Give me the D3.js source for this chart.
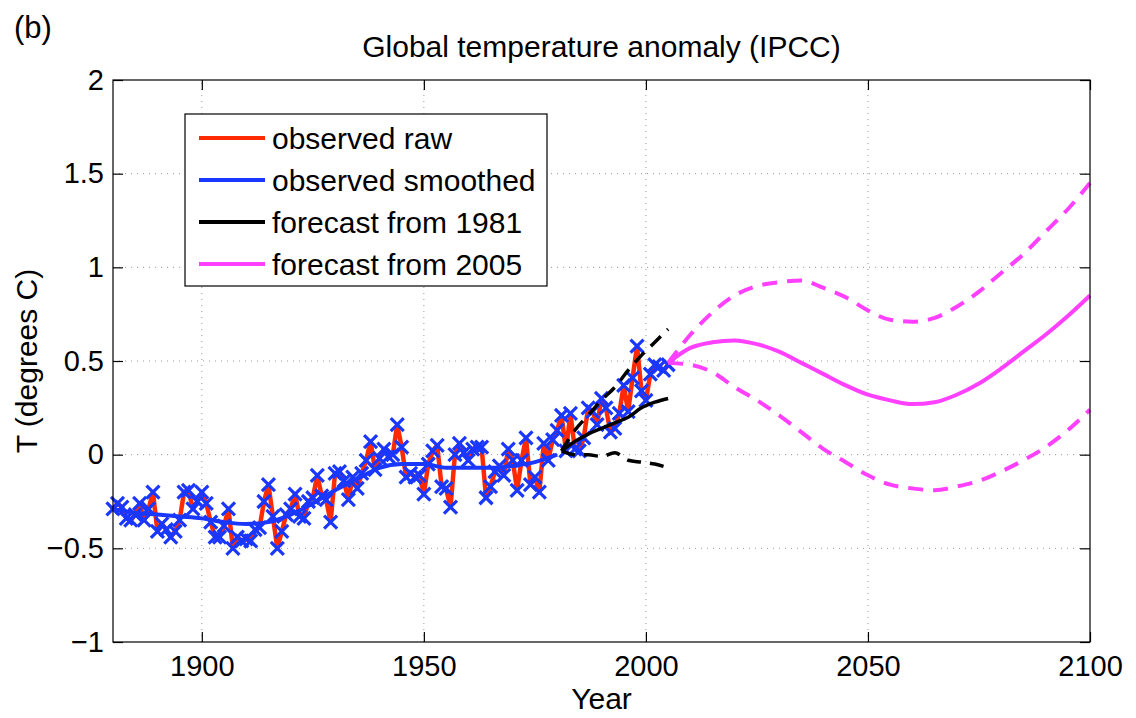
<!DOCTYPE html>
<html>
<head>
<meta charset="utf-8">
<script src="https://cdn.jsdelivr.net/npm/d3@7"></script>
<style>
  body { margin: 0; background: #fff; }
  text { font-family: "Liberation Sans", Arial, Helvetica, sans-serif; fill: #000; }
</style>
</head>
<body>
<svg id="chart" width="1136" height="718"></svg>
<script>
let width = 1136, height = 718;
let margin = {left: 113, right: 46, top: 80, bottom: 76};

let firstYear = 1880;
let rawValues = [
  -0.29, -0.26, -0.28, -0.34, -0.35, -0.32, -0.26, -0.35, -0.29, -0.20,
  -0.41, -0.37, -0.40, -0.44, -0.41, -0.35, -0.20, -0.19, -0.29, -0.25,
  -0.20, -0.26, -0.36, -0.44, -0.44, -0.38, -0.29, -0.50, -0.44, -0.46,
  -0.45, -0.46, -0.40, -0.39, -0.25, -0.16, -0.33, -0.50, -0.41, -0.32,
  -0.29, -0.21, -0.33, -0.34, -0.25, -0.23, -0.11, -0.22, -0.24, -0.36,
  -0.10, -0.09, -0.14, -0.24, -0.12, -0.18, -0.10, -0.03, 0.07, -0.08,
  -0.02, 0.03, -0.01, 0.00, 0.16, 0.04, -0.12, -0.10, -0.12, -0.11,
  -0.21, -0.05, 0.02, 0.05, -0.17, -0.18, -0.28, 0.00, 0.06, 0.01,
  -0.03, 0.03, 0.04, 0.04, -0.23, -0.17, -0.09, -0.06, -0.11, 0.03,
  -0.03, -0.19, -0.03, 0.09, -0.16, -0.12, -0.20, 0.06, -0.03, 0.08,
  0.13, 0.21, 0.02, 0.22, 0.03, 0.02, 0.09, 0.25, 0.23, 0.16,
  0.30, 0.25, 0.12, 0.14, 0.22, 0.37, 0.23, 0.41, 0.58, 0.34,
  0.29, 0.43, 0.48, 0.47, 0.45, 0.48
];

let smoothYears = [1880, 1885, 1890, 1895, 1900, 1905, 1910, 1915, 1920, 1925, 1930,
  1935, 1940, 1945, 1950, 1955, 1960, 1965, 1970, 1975, 1980];
let smoothValues = [-0.29, -0.31, -0.32, -0.33, -0.34, -0.36, -0.37, -0.36, -0.32, -0.26, -0.19,
  -0.13, -0.07, -0.05, -0.05, -0.07, -0.07, -0.07, -0.06, -0.04, 0.00];

let fc1981Years = [1981, 1984, 1987, 1990, 1993, 1996, 1999, 2002, 2005];
let fc1981Mid = [0.02, 0.07, 0.11, 0.14, 0.17, 0.20, 0.25, 0.28, 0.30];
let fc1981Hi = [0.02, 0.13, 0.21, 0.29, 0.36, 0.45, 0.53, 0.60, 0.67];
let fc1981Lo = [0.02, 0.00, 0.00, -0.01, 0.01, -0.03, -0.04, -0.05, -0.07];

let fc2005Years = [2005, 2010, 2015, 2020, 2025, 2030, 2035, 2040, 2045, 2050,
  2055, 2060, 2065, 2070, 2075, 2080, 2085, 2090, 2095, 2100];
let fc2005Mid = [0.49, 0.57, 0.60, 0.61, 0.59, 0.55, 0.49, 0.43, 0.37, 0.32,
  0.29, 0.27, 0.28, 0.32, 0.38, 0.46, 0.55, 0.64, 0.74, 0.85];
let fc2005Hi = [0.49, 0.64, 0.76, 0.85, 0.90, 0.92, 0.93, 0.89, 0.84, 0.77,
  0.72, 0.71, 0.73, 0.79, 0.87, 0.97, 1.07, 1.19, 1.31, 1.45];
let fc2005Lo = [0.49, 0.48, 0.44, 0.36, 0.29, 0.21, 0.12, 0.03, -0.04, -0.11,
  -0.16, -0.18, -0.19, -0.17, -0.14, -0.09, -0.03, 0.04, 0.13, 0.24];

let xTicks = [1900, 1950, 2000, 2050, 2100];
let yTicks = [-1, -0.5, 0, 0.5, 1, 1.5, 2];

let legendItems = [
  {label: "observed raw", color: "#ff2a00"},
  {label: "observed smoothed", color: "#1a37ff"},
  {label: "forecast from 1981", color: "#000000"},
  {label: "forecast from 2005", color: "#ff40ff"}
];

let svg = d3.select("#chart");
let x = d3.scaleLinear().domain([1880, 2100]).range([margin.left, width - margin.right]);
let y = d3.scaleLinear().domain([-1, 2]).range([height - margin.bottom, margin.top]);
let fmt = v => d3.format("")(v).replace("-", "\u2212");

// grid
svg.append("g").selectAll("line").data(xTicks.filter(d => d < 2100)).enter().append("line")
  .attr("x1", d => x(d)).attr("x2", d => x(d)).attr("y1", y(-1)).attr("y2", y(2))
  .style("stroke", "#999").style("stroke-width", 1).style("stroke-dasharray", "1,5");
svg.append("g").selectAll("line").data(yTicks.filter(d => d > -1 && d < 2)).enter().append("line")
  .attr("x1", x(1880)).attr("x2", x(2100)).attr("y1", d => y(d)).attr("y2", d => y(d))
  .style("stroke", "#999").style("stroke-width", 1).style("stroke-dasharray", "1,5");

let line = d3.line().x(d => x(d[0])).y(d => y(d[1]));
let smooth = d3.line().x(d => x(d[0])).y(d => y(d[1])).curve(d3.curveMonotoneX);

let raw = rawValues.map((v, i) => [firstYear + i, v]);
let zip = (xs, ys) => xs.map((d, i) => [d, ys[i]]);

svg.append("path").datum(raw).attr("d", line)
  .style("fill", "none").style("stroke", "#ff2a00").style("stroke-width", 4.5).style("stroke-linejoin", "round");

svg.append("g").selectAll("path").data(raw).enter().append("path")
  .attr("transform", d => "translate(" + x(d[0]) + "," + y(d[1]) + ")")
  .attr("d", "M-6.5,-6.5L6.5,6.5M-6.5,6.5L6.5,-6.5")
  .style("stroke", "#1a37ff").style("stroke-width", 3.2).style("fill", "none");

svg.append("path").datum(zip(smoothYears, smoothValues)).attr("d", smooth)
  .style("fill", "none").style("stroke", "#1a37ff").style("stroke-width", 4);

[fc1981Mid, fc1981Hi, fc1981Lo].forEach(function(vals, i){
  svg.append("path").datum(zip(fc1981Years, vals)).attr("d", smooth)
    .style("fill", "none").style("stroke", "#000").style("stroke-width", 3.5)
    .style("stroke-dasharray", i == 0 ? null : "14,9");
});

[fc2005Mid, fc2005Hi, fc2005Lo].forEach(function(vals, i){
  svg.append("path").datum(zip(fc2005Years, vals)).attr("d", smooth)
    .style("fill", "none").style("stroke", "#ff40ff").style("stroke-width", 4)
    .style("stroke-dasharray", i == 0 ? null : "15,10");
});

// axes box + inward ticks
svg.append("rect").attr("x", x(1880)).attr("y", y(2)).attr("width", x(2100) - x(1880)).attr("height", y(-1) - y(2))
  .style("fill", "none").style("stroke", "#000").style("stroke-width", 1.2);

let axisB = d3.axisBottom(x).tickValues(xTicks).tickSize(-10).tickPadding(13).tickFormat(d3.format("d"));
let axisL = d3.axisLeft(y).tickValues(yTicks).tickSize(-10).tickPadding(9).tickFormat(fmt);
let axisT = d3.axisTop(x).tickValues(xTicks).tickSize(-10).tickFormat("");
let axisR = d3.axisRight(y).tickValues(yTicks).tickSize(-10).tickFormat("");

svg.append("g").attr("transform", "translate(0," + y(-1) + ")").call(axisB);
svg.append("g").attr("transform", "translate(" + x(1880) + ",0)").call(axisL);
svg.append("g").attr("transform", "translate(0," + y(2) + ")").call(axisT);
svg.append("g").attr("transform", "translate(" + x(2100) + ",0)").call(axisR);
svg.selectAll(".domain").remove();
svg.selectAll(".tick line").style("stroke", "#000").style("stroke-width", 1.2);
svg.selectAll(".tick text").style("font-size", "29px").style("font-family", "'Liberation Sans', Arial, sans-serif");

// legend
let lg = svg.append("g").attr("transform", "translate(185,114)");
lg.append("rect").attr("width", 362).attr("height", 172)
  .style("fill", "#fff").style("stroke", "#000").style("stroke-width", 1.2);
lg.selectAll(".item").data(legendItems).enter().append("g")
  .attr("transform", (d, i) => "translate(0," + (24 + i * 42) + ")")
  .each(function(d){
    let g = d3.select(this);
    g.append("line").attr("x1", 14).attr("x2", 80).style("stroke", d.color).style("stroke-width", 4);
    g.append("text").attr("x", 87).attr("y", 11).style("font-size", "30px").text(d.label);
  });

svg.append("text").attr("x", x(1990)).attr("y", 57).attr("text-anchor", "middle")
  .style("font-size", "30px").text("Global temperature anomaly (IPCC)");
svg.append("text").attr("x", 14).attr("y", 38).style("font-size", "31px").text("(b)");
svg.append("text").attr("x", x(1990)).attr("y", 709).attr("text-anchor", "middle")
  .style("font-size", "30px").text("Year");
svg.append("text").attr("transform", "translate(37," + y(0.5) + ") rotate(-90)").attr("text-anchor", "middle")
  .style("font-size", "30px").text("T (degrees C)");
</script>
</body>
</html>
